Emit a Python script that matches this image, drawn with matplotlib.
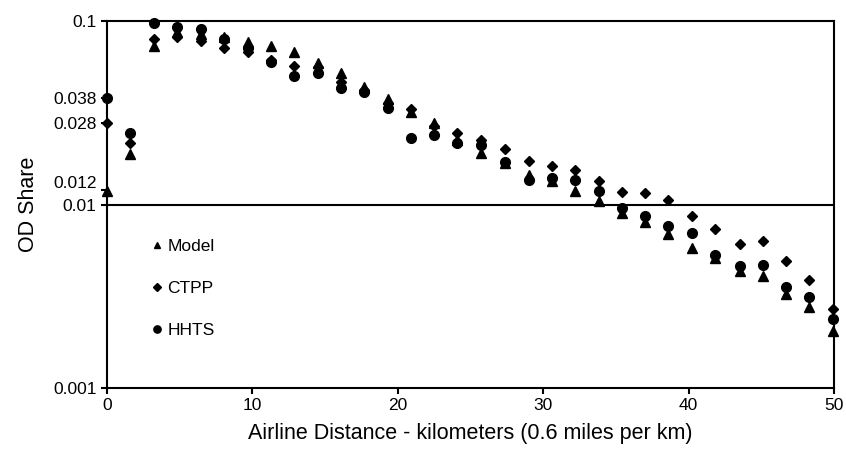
import numpy as np
import matplotlib
matplotlib.use("Agg")
import matplotlib.pyplot as plt
from matplotlib.transforms import ScaledTranslation

plt.rcParams['font.family'] = ['Liberation Sans', 'DejaVu Sans']

# distance in km (one point per mile)
distance = [0.0, 1.61, 3.22, 4.83, 6.44, 8.05, 9.66, 11.27, 12.88, 14.49, 16.1,
            17.7, 19.3, 20.9, 22.5, 24.1, 25.7, 27.4, 29.0, 30.6, 32.2, 33.8,
            35.4, 37.0, 38.6, 40.2, 41.8, 43.5, 45.1, 46.7, 48.3, 49.9]

model = [0.0119, 0.0188, 0.073, 0.087, 0.085, 0.082, 0.077, 0.073, 0.068, 0.0593,
         0.052, 0.044, 0.0376, 0.032, 0.0279, 0.0225, 0.019, 0.0168, 0.0145, 0.0134,
         0.0119, 0.0105, 0.00895, 0.0080, 0.0069, 0.00582, 0.0051, 0.00436, 0.0041,
         0.00325, 0.00275, 0.00205]

ctpp = [0.028, 0.0217, 0.080, 0.082, 0.078, 0.071, 0.068, 0.061, 0.057, 0.056,
        0.0467, 0.042, 0.0359, 0.033, 0.0268, 0.0246, 0.0225, 0.0201, 0.0173, 0.0162,
        0.0154, 0.0134, 0.0117, 0.0115, 0.0106, 0.00865, 0.0074, 0.0061, 0.00635,
        0.00494, 0.00388, 0.0027]

hhts = [0.038, 0.0247, 0.098, 0.093, 0.090, 0.080, 0.071, 0.060, 0.050, 0.0523,
        0.043, 0.041, 0.0334, 0.023, 0.024, 0.0216, 0.021, 0.0171, 0.0136, 0.0139,
        0.0136, 0.0118, 0.0096, 0.00865, 0.00764, 0.00703, 0.0053, 0.00462, 0.00468,
        0.00357, 0.00315, 0.00237]

ytick_vals = [0.001, 0.01, 0.012, 0.028, 0.038, 0.1]
ytick_labels = ['0.001', '0.01', '0.012', '0.028', '0.038', '0.1']
xtick_vals = [0, 10, 20, 30, 40, 50]

fig = plt.figure(figsize=(8.46, 4.49), dpi=100)
ax = fig.add_axes([0.1265, 0.1359, 0.8595, 0.8171])

ax.plot(distance, model, linestyle='none', marker='^', color='black', markersize=6.5, label='Model', clip_on=False)
ax.plot(distance, ctpp, linestyle='none', marker='D', color='black', markersize=5, label='CTPP', clip_on=False)
ax.plot(distance, hhts, linestyle='none', marker='o', color='black', markersize=7, label='HHTS', clip_on=False)

ax.axhline(0.01, color='black', linewidth=1.5)

ax.set_yscale('log')
ax.set_ylim(0.001, 0.1)
ax.set_xlim(0, 50)
ax.yaxis.set_minor_locator(matplotlib.ticker.NullLocator())
ax.set_yticks(ytick_vals)
ax.set_yticklabels(ytick_labels)
ax.set_xticks(xtick_vals)

for s in ax.spines.values():
    s.set_linewidth(1.5)
ax.tick_params(axis='both', labelsize=12.5, length=4, width=1.5, direction='out')

ax.set_xlabel('Airline Distance - kilometers (0.6 miles per km)', fontsize=15.5, labelpad=7)
ax.set_ylabel('OD Share', fontsize=15.5, labelpad=10)

# Excel nudged the 0.012 label up so it clears 0.01
for lab in ax.get_yticklabels():
    if lab.get_text() == '0.012':
        lab.set_transform(lab.get_transform() + ScaledTranslation(0, 6 / 72, fig.dpi_scale_trans))

ax.legend(loc='upper left', bbox_to_anchor=(0.035, 0.45), frameon=False, fontsize=12.5,
          handletextpad=0.1, labelspacing=1.55, handlelength=1.0, markerscale=0.75)

fig.savefig('out.png', dpi=100)
